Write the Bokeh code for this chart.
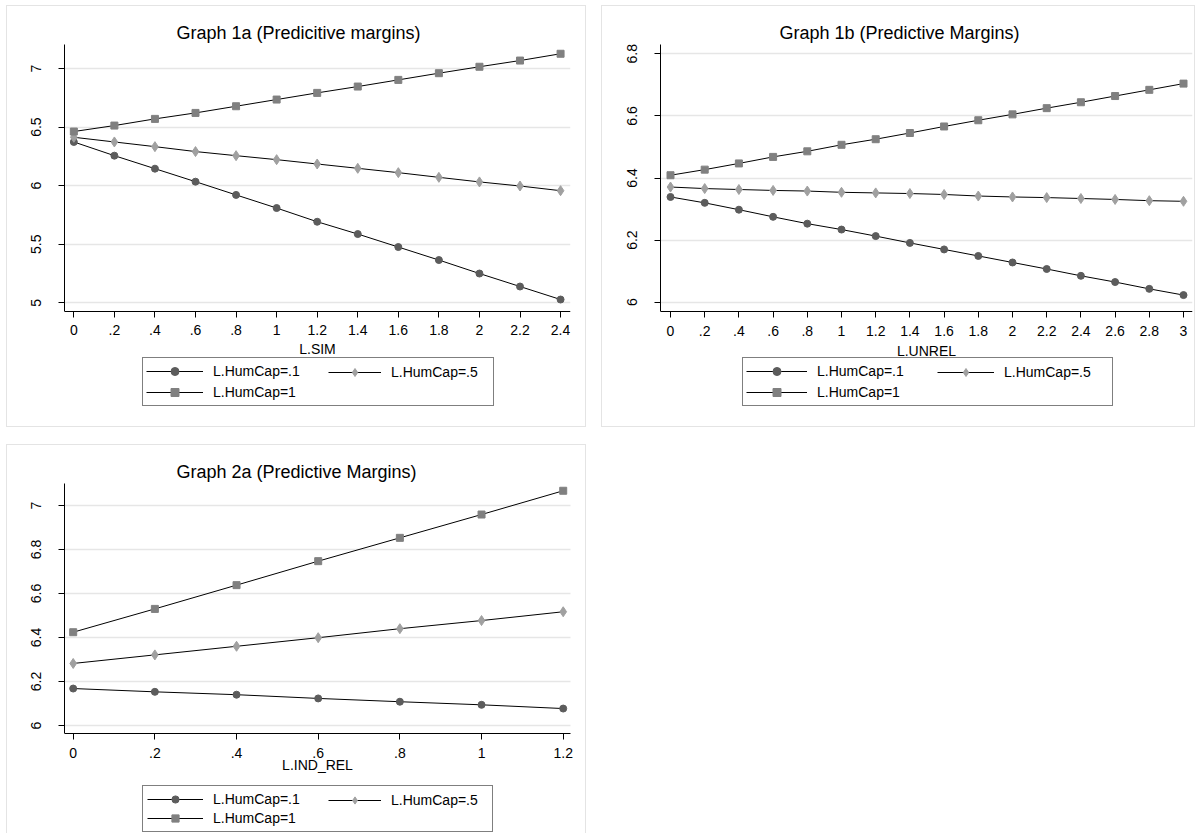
from bokeh.plotting import figure
from bokeh.models import Legend, LegendItem, FixedTicker, Range1d
from bokeh.layouts import column, row
from bokeh.embed import file_html
from bokeh.resources import INLINE

# ---------------- DATA ----------------
labels_hc = ["L.HumCap=.1", "L.HumCap=.5", "L.HumCap=1"]

# Graph 1a
x_1a = [0, 0.2, 0.4, 0.6, 0.8, 1.0, 1.2, 1.4, 1.6, 1.8, 2.0, 2.2, 2.4]
y_1a_hc01 = [6.373, 6.256, 6.145, 6.034, 5.921, 5.809, 5.692, 5.587, 5.476, 5.365, 5.250, 5.139, 5.028]
y_1a_hc05 = [6.413, 6.373, 6.333, 6.291, 6.256, 6.222, 6.185, 6.148, 6.111, 6.071, 6.032, 5.997, 5.957]
y_1a_hc1 = [6.462, 6.513, 6.570, 6.621, 6.678, 6.735, 6.792, 6.846, 6.903, 6.960, 7.015, 7.068, 7.126]
xticks_1a = [0, 0.2, 0.4, 0.6, 0.8, 1.0, 1.2, 1.4, 1.6, 1.8, 2.0, 2.2, 2.4]
xlabels_1a = ["0", ".2", ".4", ".6", ".8", "1", "1.2", "1.4", "1.6", "1.8", "2", "2.2", "2.4"]
yticks_1a = [5, 5.5, 6, 6.5, 7]
ylabels_1a = ["5", "5.5", "6", "6.5", "7"]

# Graph 1b
x_1b = [0, 0.2, 0.4, 0.6, 0.8, 1.0, 1.2, 1.4, 1.6, 1.8, 2.0, 2.2, 2.4, 2.6, 2.8, 3.0]
y_1b_hc01 = [6.339, 6.320, 6.298, 6.275, 6.253, 6.234, 6.213, 6.191, 6.170, 6.149, 6.128, 6.107, 6.085, 6.065, 6.043, 6.023]
y_1b_hc05 = [6.371, 6.366, 6.363, 6.360, 6.358, 6.354, 6.352, 6.350, 6.347, 6.342, 6.339, 6.337, 6.334, 6.331, 6.327, 6.325]
y_1b_hc1 = [6.409, 6.427, 6.447, 6.468, 6.486, 6.507, 6.525, 6.545, 6.566, 6.586, 6.605, 6.625, 6.644, 6.664, 6.684, 6.704]
xticks_1b = [0, 0.2, 0.4, 0.6, 0.8, 1.0, 1.2, 1.4, 1.6, 1.8, 2.0, 2.2, 2.4, 2.6, 2.8, 3.0]
xlabels_1b = ["0", ".2", ".4", ".6", ".8", "1", "1.2", "1.4", "1.6", "1.8", "2", "2.2", "2.4", "2.6", "2.8", "3"]
yticks_1b = [6, 6.2, 6.4, 6.6, 6.8]
ylabels_1b = ["6", "6.2", "6.4", "6.6", "6.8"]

# Graph 2a
x_2a = [0, 0.2, 0.4, 0.6, 0.8, 1.0, 1.2]
y_2a_hc01 = [6.168, 6.153, 6.140, 6.123, 6.108, 6.094, 6.077]
y_2a_hc05 = [6.282, 6.321, 6.360, 6.399, 6.440, 6.477, 6.517]
y_2a_hc1 = [6.424, 6.530, 6.638, 6.747, 6.853, 6.959, 7.067]
xticks_2a = [0, 0.2, 0.4, 0.6, 0.8, 1.0, 1.2]
xlabels_2a = ["0", ".2", ".4", ".6", ".8", "1", "1.2"]
yticks_2a = [6, 6.2, 6.4, 6.6, 6.8, 7]
ylabels_2a = ["6", "6.2", "6.4", "6.6", "6.8", "7"]

# ---------------- STYLE ----------------
FONT = "Liberation Sans"
COLORS = ["#5c5c5c", "#a0a0a0", "#808080"]
MARKERS = ["circle", "diamond", "square"]
SIZES = [7, 10, 7]
PANEL_BORDER = "1px solid #e4e4e4"


def make_panel(title, title_offset, x, ys, xticks, xlabels, yticks, ylabels,
               xlabel, x_plot, x_frame_right, y_plot, y_frame_bottom,
               width, height, borders, xlab_standoff,
               legA_loc, legB_loc, legA_lw, glyph_wA, glyph_wB, glyph_h,
               legA_pad, legA_spacing, styles):
    bl, br, bt = borders
    x_lo, x_hi = x_plot
    y_lo, y_hi = y_plot
    # the frame reaches down to the bottom of the panel, so that the legend
    # (which sits below the x axis) is inside the frame
    p = figure(width=width, height=height, output_backend="svg",
               toolbar_location=None,
               x_range=Range1d(x_lo, x_frame_right),
               y_range=Range1d(y_frame_bottom, y_hi),
               min_border_left=bl, min_border_right=br,
               min_border_top=bt, min_border_bottom=0,
               title=title)
    p.styles = styles
    p.background_fill_color = "white"
    p.border_fill_color = "white"
    p.outline_line_color = None
    p.title.align = "left"
    p.title.offset = title_offset
    p.title.text_font = FONT
    p.title.text_font_size = "18px"
    p.title.text_font_style = "normal"
    p.title.text_color = "black"
    p.title.standoff = 4

    xa = p.xaxis[0]
    xa.fixed_location = y_lo
    xa.bounds = (x_lo, x_hi)
    xa.ticker = FixedTicker(ticks=xticks)
    xa.major_label_overrides = {t: l for t, l in zip(xticks, xlabels)}
    xa.axis_label = xlabel
    ya = p.yaxis[0]
    ya.bounds = (y_lo, y_hi)
    ya.ticker = FixedTicker(ticks=yticks)
    ya.major_label_overrides = {t: l for t, l in zip(yticks, ylabels)}
    ya.major_label_orientation = "vertical"
    for ax in (xa, ya):
        ax.axis_line_color = "black"
        ax.axis_line_width = 1
        ax.major_tick_line_color = "black"
        ax.major_tick_in = 0
        ax.major_tick_out = 6
        ax.minor_tick_line_color = None
        ax.major_label_text_font = FONT
        ax.major_label_text_font_size = "14px"
        ax.major_label_text_color = "black"
        ax.axis_label_text_font = FONT
        ax.axis_label_text_font_size = "14px"
        ax.axis_label_text_font_style = "normal"
        ax.axis_label_text_color = "black"
    xa.major_label_standoff = 8
    xa.axis_label_standoff = xlab_standoff
    ya.major_label_standoff = 17

    p.xgrid.visible = False
    yg = p.ygrid[0]
    yg.grid_line_color = "#e6e6e6"
    yg.grid_line_width = 1.3
    if "cross_bounds" in yg.properties():
        yg.cross_bounds = (x_lo, x_hi)

    rends = []
    for i, y in enumerate(ys):
        lr = p.line(x, y, line_color="black", line_width=1)
        sr = p.scatter(x, y, marker=MARKERS[i], size=SIZES[i],
                       fill_color=COLORS[i], line_color=COLORS[i])
        rends.append([lr, sr])

    common = dict(orientation="vertical", glyph_height=glyph_h,
                  label_height=16, label_standoff=10, label_text_font=FONT,
                  label_text_font_size="14px", label_text_color="black",
                  margin=0)
    legA = Legend(items=[LegendItem(label=labels_hc[0], renderers=rends[0]),
                         LegendItem(label=labels_hc[2], renderers=rends[2])],
                  location=legA_loc, label_width=legA_lw, glyph_width=glyph_wA,
                  padding=legA_pad, spacing=legA_spacing,
                  border_line_color="black", border_line_width=1,
                  background_fill_color="white", background_fill_alpha=1.0,
                  **common)
    legB = Legend(items=[LegendItem(label=labels_hc[1], renderers=rends[1])],
                  location=legB_loc, label_width=20, glyph_width=glyph_wB,
                  padding=0, spacing=0,
                  border_line_color=None, background_fill_alpha=0.0,
                  **common)
    p.add_layout(legA, "center")
    p.add_layout(legB, "center")
    return p


full_border = {"border": PANEL_BORDER}
open_bottom = {"border-top": PANEL_BORDER, "border-left": PANEL_BORDER,
               "border-right": PANEL_BORDER}

p1 = make_panel("Graph 1a (Predicitive margins)", 112, x_1a,
                [y_1a_hc01, y_1a_hc05, y_1a_hc1], xticks_1a, xlabels_1a,
                yticks_1a, ylabels_1a, "L.SIM",
                (-0.046, 2.449), 2.449, (4.926, 7.205), 3.927,
                580, 422, (57, 17, 38), 2,
                (78, 22), (264, 46), 277, 57, 53, 20, 3, 1, full_border)

p2 = make_panel("Graph 1b (Predictive Margins)", 119, x_1b,
                [y_1b_hc01, y_1b_hc05, y_1b_hc1], xticks_1b, xlabels_1b,
                yticks_1b, ylabels_1b, "L.UNREL",
                (-0.0585, 3.0526), 3.0526, (5.970, 6.830), 5.5933,
                594, 422, (58, 4, 38), 4,
                (82, 22), (277, 46), 292, 61, 57, 20, 3, 1, full_border)

p3 = make_panel("Graph 2a (Predictive Margins)", 112, x_2a,
                [y_2a_hc01, y_2a_hc05, y_2a_hc1], xticks_2a, xlabels_2a,
                yticks_2a, ylabels_2a, "L.IND_REL",
                (-0.0213, 1.2179), 1.2350, (5.9636, 7.1), 5.5045,
                580, 389, (57, 10, 38), -4,
                (78, 2), (264, 25), 275, 56, 53, 18, 4, 1, open_bottom)

layout = column(row(p1, p2, spacing=15), p3, spacing=17, margin=(5, 0, 0, 6))

open("out.html", "w").write(file_html(layout, INLINE))
